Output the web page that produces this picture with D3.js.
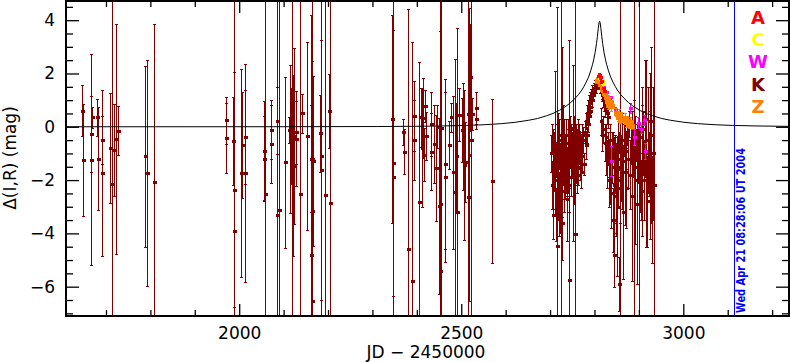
<!DOCTYPE html>
<html>
<head>
<meta charset="utf-8">
<script src="https://cdn.jsdelivr.net/npm/d3@7"></script>
<style>
  html, body { margin: 0; padding: 0; background: #fff; }
  svg { display: block; }
  text { font-family: "DejaVu Sans", sans-serif; }
</style>
</head>
<body>
<div id="chart"></div>
<script>
// Model light curve (JD - 2450000, magnitude)
const modelJD  = [1610, 1811.5, 2111.5, 2311.5, 2411.5, 2461.5, 2511.5, 2551.5, 2591.5, 2621.5, 2651.5, 2671.5,
  2691.5, 2706.5, 2721.5, 2736.5, 2746.5, 2756.5, 2764.5, 2771.5, 2776.5, 2781.5, 2786.5, 2791.5, 2795.5, 2798.5,
  2801.5, 2804.5, 2806.5, 2808.5, 2809.5, 2810.5, 2811.5, 2812.5, 2813.5, 2814.5, 2816.5, 2818.5, 2821.5, 2824.5,
  2827.5, 2831.5, 2836.5, 2841.5, 2846.5, 2851.5, 2858.5, 2866.5, 2876.5, 2886.5, 2901.5, 2916.5, 2931.5, 2951.5,
  2971.5, 3001.5, 3031.5, 3071.5, 3111.5, 3161.5, 3211.5, 3238];
const modelMag = [0.0004, 0.0008, 0.003, 0.010, 0.021, 0.032, 0.051, 0.077, 0.119, 0.169, 0.244, 0.31,
  0.41, 0.50, 0.62, 0.78, 0.91, 1.07, 1.22, 1.38, 1.52, 1.68, 1.86, 2.10, 2.33, 2.54,
  2.79, 3.12, 3.38, 3.68, 3.82, 3.92, 3.96, 3.92, 3.82, 3.68, 3.38, 3.12, 2.79, 2.54,
  2.33, 2.10, 1.86, 1.68, 1.52, 1.38, 1.22, 1.07, 0.91, 0.78, 0.62, 0.50, 0.41, 0.31,
  0.244, 0.169, 0.119, 0.077, 0.051, 0.032, 0.021, 0.018];

// [JD - 2450000, mag, error]; error 9 = bar runs off the plot
const seriesK = [
  [1647, 0.60, 0.95], [1648, -1.23, 2.1], [1666, -1.23, 3.95], [1666.5, -0.27, 1.41], [1667.5, 0.35, 0.4],
  [1679.7, 0.35, 0.69], [1681, -1.19, 1.95], [1690, -1.74, 3.11], [1691, -0.49, 0.9], [1709.5, -0.80, 2.06],
  [1713, -2.14, 9], [1717, -0.86, 1.72], [1722, -0.46, 4.31], [1726, -0.14, 0.92], [1788, -1.11, 3.39],
  [1793, -1.74, 4.25], [1808.6, -2.09, 5.94], [1970, 0.24, 0.87], [1971, -0.42, 1.33], [1987, -0.54, 1.65],
  [1988, -3.90, 9], [1988.5, -2.36, 4.41], [2005, -1.74, 3.9], [2006.5, -0.69, 1.99], [2013, -1.74, 4.1],
  [2014, -0.38, 1.75],
  [2055, -0.89, 1.87], [2056, -1.20, 1.6], [2057, -2.53, 9], [2071, -0.11, 1.1], [2072, -0.65, 1.46],
  [2085.5, -3.30, 9], [2086, 0.23, 1.25], [2090, -3.14, 9], [2103.6, -1.34, 3.19], [2112.6, -0.12, 0.5],
  [2114, -0.46, 2.78], [2117, -0.33, 1.8], [2119, -0.37, 9], [2121.6, -1.46, 3.4], [2123.9, -0.36, 3.3],
  [2127, -0.44, 1.8], [2129, -0.21, 1.18], [2136.7, -2.53, 9], [2141.9, 0.51, 0.73], [2152.4, -0.34, 3.52],
  [2160.7, -4.80, 9], [2161.5, -1.19, 2.0], [2163, -3.16, 9], [2164, -1.20, 9], [2165, -6.55, 9],
  [2166.5, -1.29, 3.2], [2181, -0.24, 1.44], [2183.7, -1.63, 4.87], [2185, -1.08, 9], [2193, -2.56, 9],
  [2202.7, 0.59, 1.38], [2204.5, -2.86, 9], [2345, 0.29, 3.9], [2345.5, -1.36, 5.0], [2346.5, -1.89, 9],
  [2368, -0.20, 0.48], [2372, -0.93, 0.84], [2380.8, -4.58, 9], [2389.6, -5.80, 9], [2393, 0.40, 1.3],
  [2394, -0.49, 1.5], [2405, -2.84, 5.27], [2410, 0.35, 1.1], [2412, -0.80, 2.2], [2414, 0.32, 1.5],
  [2416, -1.05, 1.0], [2418, 0.79, 0.6], [2420, -0.35, 0.9], [2431.6, 0.12, 1.2], [2433, -0.93, 1.44],
  [2437.7, -0.65, 1.46], [2443, -1.55, 1.98], [2446, 0.01, 0.8], [2451, -2.96, 3.3], [2452, -5.41, 9],
  [2453, -2.90, 9], [2455, -0.03, 9], [2463, -1.39, 3.18], [2464.5, -1.89, 3.2], [2472, -0.68, 0.9],
  [2478, 0.36, 0.54], [2482, -1.71, 2.88], [2486, -2.44, 5.0], [2487.5, -1.11, 2.0], [2489.5, -3.20, 6.9],
  [2495, 0.46, 1.0], [2502, -0.11, 1.2], [2504, -0.36, 2.0], [2506, -1.43, 2.8], [2508, -1.31, 1.5],
  [2515, -2.65, 8], [2516, 0.47, 9], [2518, -1.05, 5.5], [2520, 1.85, 2.0], [2521, -0.5, 9],
  [2525, 0.47, 0.6], [2533, 0.72, 0.6], [2534, 0.30, 0.4], [2570, -2.04, 3.08],
  // dense season before the peak
  [2703, -1.0, 0.7], [2704, -2.2, 0.9], [2705, -0.4, 0.5], [2706, -1.6, 1.5], [2707, -3.3, 0.9],
  [2708, -0.8, 0.4], [2709, -1.3, 1.1], [2714.5, -4.49, 9], [2711, -2.0, 1.3], [2712, -0.6, 2.7],
  [2713, -1.2, 0.6], [2714, -3.3, 1.0], [2715, -0.9, 1.0], [2716, -1.8, 0.8], [2717, -0.3, 0.6],
  [2718, -1.5, 2.0], [2719, -2.9, 1.2], [2720, -1.1, 0.5], [2721, -0.5, 0.8], [2722, -2.3, 1.7],
  [2723, -1.4, 0.7], [2724.4, -1.1, 9], [2725, -1.9, 1.0], [2726, -0.2, 3.2], [2727, -3.6, 1.4],
  [2728, -1.0, 0.9], [2729, -1.6, 0.6], [2730, -0.4, 1.2], [2731, -2.4, 0.8], [2732, -1.2, 1.5],
  [2733, -0.8, 0.5], [2734, -2.0, 0.7], [2735, -1.4, 1.1], [2736, -0.3, 0.6], [2737, -1.7, 0.9],
  [2738, -2.7, 1.6], [2741.5, -5.74, 9], [2740, -1.1, 1.4], [2741, -0.6, 0.5], [2742, -1.5, 0.8],
  [2743, -2.2, 1.0], [2744, -0.9, 0.6], [2745, -0.1, 0.5], [2746, -1.3, 1.3], [2747, -1.9, 0.7],
  [2748, -0.5, 0.6], [2756, -4.02, 9], [2750, -1.0, 0.8], [2751, -0.7, 0.5], [2752, -1.0, 3.3],
  [2753, -0.3, 0.7], [2754, -1.2, 0.6], [2755, -2.0, 0.9], [2756.5, -0.8, 0.5], [2757, -1.4, 0.8],
  [2758, -0.5, 0.6], [2759, -1.1, 1.0], [2760, -1.8, 0.7], [2761, -0.6, 0.5], [2762, -1.0, 0.6],
  [2763, -0.2, 0.5], [2764, -1.5, 0.7], [2765, -0.8, 0.6], [2766, -0.4, 0.5], [2767, -1.2, 0.8],
  [2768, -0.6, 0.4], [2769, -1.7, 0.6], [2770, -0.9, 0.5], [2772, -0.3, 0.4], [2773, -1.1, 0.6],
  [2775, -0.5, 0.5], [2776, -1.4, 0.4], [2778, -0.2, 0.4], [2780, -0.7, 0.5], [2782, 0.2, 0.3],
  [2783, -0.3, 0.3], [2784, 0.5, 0.3], [2785, 0.1, 0.3], [2786, 0.7, 0.3], [2787, 0.4, 0.3],
  [2788, 0.9, 0.3], [2789, 0.6, 0.25], [2790, 1.0, 0.3], [2791, 0.75, 0.25], [2792, 1.15, 0.25],
  [2794, 1.0, 0.25], [2795, 1.3, 0.25], [2797, 1.2, 0.2], [2798, 1.45, 0.2], [2800, 1.35, 0.2],
  [2802, 1.55, 0.2], [2804, 1.45, 0.2], [2806, 1.65, 0.2], [2808, 1.55, 0.15], [2810, 1.7, 0.15],
  // after the peak
  [2812, 1.6, 0.2], [2813, 1.45, 0.2], [2815, 1.5, 0.2], [2816, 1.3, 0.25], [2818, 1.2, 0.25],
  [2819, 1.05, 0.3], [2821, 0.9, 0.3], [2822, 1.1, 0.3], [2824, 0.7, 0.35], [2826, 0.85, 0.3],
  [2828, 0.5, 0.4], [2830, 0.35, 0.4], [2814, 0.2, 0.5], [2817, -0.3, 0.6], [2820, -0.1, 0.5],
  [2823, -0.6, 0.7], [2825, -1.0, 0.8], [2827, -0.4, 0.5], [2829, -1.4, 0.9], [2831, -0.8, 0.6],
  [2832, -2.0, 1.0], [2833, -1.2, 0.7], [2835, -0.5, 0.6], [2836, -1.7, 1.2], [2838, -2.5, 1.3],
  [2839, -1.0, 0.8], [2840, -1.5, 0.6], [2841, -3.5, 1.2], [2842, -0.7, 0.5], [2843, -2.2, 1.8],
  [2844, -1.3, 0.9], [2845, -4.8, 1.2], [2846, -1.8, 0.7], [2847, -0.9, 0.6], [2848, -2.6, 1.5],
  [2849, -1.1, 0.5], [2850, -3.0, 2.6], [2851, -1.6, 0.8], [2852, -0.4, 0.6], [2853, -2.0, 1.0],
  [2854, -1.2, 0.7], [2855, -0.6, 0.4], [2856, -5.9, 1.0], [2857, -1.5, 9], [2858, -2.3, 1.3],
  [2859, -0.8, 0.5], [2860, -1.9, 0.9], [2862, -1.3, 1.8], [2864, -3.2, 2.5], [2866, -0.5, 0.6],
  [2868, -1.7, 2.0], [2870, -0.9, 0.7], [2872, -2.3, 1.5], [2874, -0.2, 0.5], [2876, -1.2, 1.1],
  [2878, 0.1, 0.5], [2880, -1.8, 1.3], [2882, -0.6, 0.8], [2884, -2.6, 3.2], [2886, -1.0, 0.9],
  [2888, -0.3, 1.3], [2890, -1.5, 9], [2892, -2.0, 2.4], [2894, -0.7, 0.6], [2896, -2.9, 3.0],
  [2898, -1.1, 1.0], [2900, -0.4, 9], [2902, -1.6, 1.6], [2904, -2.4, 1.1], [2906, -0.1, 0.9],
  [2908, -1.3, 2.8], [2910, -0.6, 1.2], [2912, -2.0, 1.5], [2914, 0.3, 2.2], [2916, -1.0, 3.5],
  [2918, -2.8, 1.7], [2920, -0.5, 2.0], [2922, -1.4, 1.2], [2924, 0.2, 1.8], [2926, -1.8, 2.4],
  [2928, -0.3, 3.3], [2930, -3.1, 2.0], [2932, -1.0, 2.5], [2934, -2.2, 9]
];
const seriesW = [
  [2820, 1.5, 0.05], [2826, 1.3, 0.05], [2834, 1.1, 0.05], [2838, -1.28, 0.55], [2846, 0.65, 0.1],
  [2857, 0.4, 0.1], [2872, 0.3, 0.1], [2879, 0.7, 0.2], [2884, 0.05, 0.15], [2890, -0.4, 0.3],
  [2898, 0.15, 0.2], [2905, -0.1, 0.15], [2912, 0.25, 0.2], [2914, -0.9, 0.3]
];
const seriesZ = [
  [2806, 1.75, 0.1], [2809, 1.8, 0.1], [2813, 1.65, 0.1], [2818, 1.45, 0.15], [2822, 1.3, 0.15],
  [2825, 1.15, 0.15], [2828, 1.0, 0.2], [2831, 0.85, 0.2], [2834, 0.95, 0.15], [2837, 0.8, 0.2],
  [2849, 0.55, 0.15], [2852, 0.4, 0.2], [2855, 0.5, 0.15], [2858, 0.3, 0.15], [2868, 0.35, 0.15],
  [2871, 0.2, 0.2], [2874, 0.25, 0.15], [2877, 0.1, 0.15], [2880, 0.2, 0.15], [2883, 0.05, 0.1]
];
const seriesC = [[2810, 1.85, 0.05], [2812, 1.8, 0.05], [2814, 1.75, 0.05], [2816, 1.7, 0.05], [2818, 1.65, 0.05], [2820, 1.6, 0.05]];
const seriesA = [[2808, 1.9, 0.05], [2810, 1.95, 0.05], [2811, 1.9, 0.05], [2813, 1.85, 0.05], [2815, 1.7, 0.05], [2819, 1.45, 0.05], [2821, 1.35, 0.05]];

const legendNames  = ['A', 'C', 'W', 'K', 'Z'];
const legendColors = ['#ff0000', '#ffff00', '#ff00ff', '#800000', '#ff8000'];
const xTicksMajor = [2000, 2500, 3000];
const yTicksMajor = [-6, -4, -2, 0, 2, 4];
const stampJD = 3115;
const stampText = 'Wed Apr 21 08:28:06 UT 2004';

const W = 790, H = 362;
const L = 66, R = 789, T = 1, B = 316;

const svg = d3.select('#chart').append('svg').attr('width', W).attr('height', H);
const x = d3.scaleLinear().domain([1610, 3238]).range([L, R]);
const y = d3.scaleLinear().domain([-7.1, 4.72]).range([B, T]);

svg.append('clipPath').attr('id', 'clip')
  .append('rect').attr('x', L).attr('y', T).attr('width', R - L).attr('height', B - T);
const plot = svg.append('g').attr('clip-path', 'url(#clip)');

// error bars + markers
function drawSeries(data, color, size) {
  const g = plot.append('g').attr('shape-rendering', 'crispEdges');
  g.selectAll('line.bar').data(data).join('line')
    .attr('x1', d => Math.round(x(d[0])) + 0.5).attr('x2', d => Math.round(x(d[0])) + 0.5)
    .attr('y1', d => y(d[1] + d[2])).attr('y2', d => y(d[1] - d[2]))
    .attr('stroke', color).attr('stroke-width', 1);
  [1, -1].forEach(s => {
    g.selectAll('line.cap' + s).data(data).join('line')
      .attr('x1', d => Math.round(x(d[0])) - 1).attr('x2', d => Math.round(x(d[0])) + 2)
      .attr('y1', d => Math.round(y(d[1] + s * d[2])) + 0.5).attr('y2', d => Math.round(y(d[1] + s * d[2])) + 0.5)
      .attr('stroke', color).attr('stroke-width', 1);
  });
  g.selectAll('rect').data(data).join('rect')
    .attr('x', d => Math.round(x(d[0])) - size / 2 + 0.5).attr('y', d => Math.round(y(d[1])) - 1.5)
    .attr('width', size).attr('height', 3 + (size - 4))
    .attr('fill', color);
}
drawSeries(seriesK, legendColors[3], 4);
drawSeries(seriesW, legendColors[2], 4);
drawSeries(seriesZ, legendColors[4], 6);
drawSeries(seriesC, legendColors[1], 4);
drawSeries(seriesA, legendColors[0], 4);

// model curve
const model = modelJD.map((d, i) => [d, modelMag[i]]);
plot.append('path').datum(model)
  .attr('d', d3.line().x(d => x(d[0])).y(d => y(d[1])))
  .attr('fill', 'none').attr('stroke', '#000').attr('stroke-width', 1);

// axes, ticks inward
const minorX = d3.range(1700, 3201, 100).filter(v => !xTicksMajor.includes(v));
const minorY = d3.range(-7, 4.6, 0.5).filter(v => !yTicksMajor.includes(v));
const fmtY = d => (d < 0 ? '\u2212' + Math.abs(d) : '' + d);

function axis(gen, tr, vals, size, fmt, pad) {
  const g = svg.append('g').attr('transform', tr)
    .call(gen.tickValues(vals).tickSize(size).tickPadding(pad).tickFormat(fmt));
  g.select('.domain').remove();
  g.selectAll('line').attr('stroke', '#000').attr('stroke-width', 1.3);
  g.selectAll('text').attr('font-size', 17).attr('fill', '#000').attr('font-family', '"DejaVu Sans", sans-serif');
  return g;
}
axis(d3.axisBottom(x), `translate(0,${B})`, xTicksMajor, -12, d3.format('d'), 11);
axis(d3.axisBottom(x), `translate(0,${B})`, minorX, -6, '', 0);
axis(d3.axisTop(x), `translate(0,${T})`, xTicksMajor, -12, '', 0);
axis(d3.axisTop(x), `translate(0,${T})`, minorX, -6, '', 0);
axis(d3.axisLeft(y), `translate(${L},0)`, yTicksMajor, -13, fmtY, 11);
axis(d3.axisLeft(y), `translate(${L},0)`, minorY, -7, '', 0);
axis(d3.axisRight(y), `translate(${R},0)`, yTicksMajor, -13, '', 0);
axis(d3.axisRight(y), `translate(${R},0)`, minorY, -7, '', 0);

svg.append('rect').attr('x', L).attr('y', T).attr('width', R - L).attr('height', B - T)
  .attr('fill', 'none').attr('stroke', '#000').attr('stroke-width', 2);

// axis titles
svg.append('text').attr('x', 426).attr('y', 358).attr('text-anchor', 'middle')
  .attr('font-size', 17).text('JD \u2212 2450000');
svg.append('text').attr('transform', 'translate(16,158) rotate(-90)').attr('text-anchor', 'middle')
  .attr('font-size', 17).text('\u0394(I,R) (mag)');

// date stamp
svg.append('line').attr('x1', Math.round(x(stampJD)) + 0.5).attr('x2', Math.round(x(stampJD)) + 0.5)
  .attr('y1', T).attr('y2', B).attr('stroke', '#0000ff').attr('stroke-width', 1);
svg.append('text').attr('transform', `translate(${x(stampJD) + 11},313) rotate(-90)`)
  .attr('font-family', '"Liberation Serif", serif').attr('font-weight', 'bold').attr('font-size', 12)
  .attr('fill', '#0000ff').attr('textLength', 165).attr('lengthAdjust', 'spacingAndGlyphs').text(stampText);

// legend letters
svg.append('g').selectAll('text').data(legendNames).join('text')
  .attr('x', 758).attr('y', (d, i) => 24 + i * 22.2).attr('text-anchor', 'middle')
  .attr('font-family', '"Liberation Serif", serif').attr('font-weight', 'bold').attr('font-size', 18)
  .attr('fill', (d, i) => legendColors[i]).text(d => d);
</script>
</body>
</html>
